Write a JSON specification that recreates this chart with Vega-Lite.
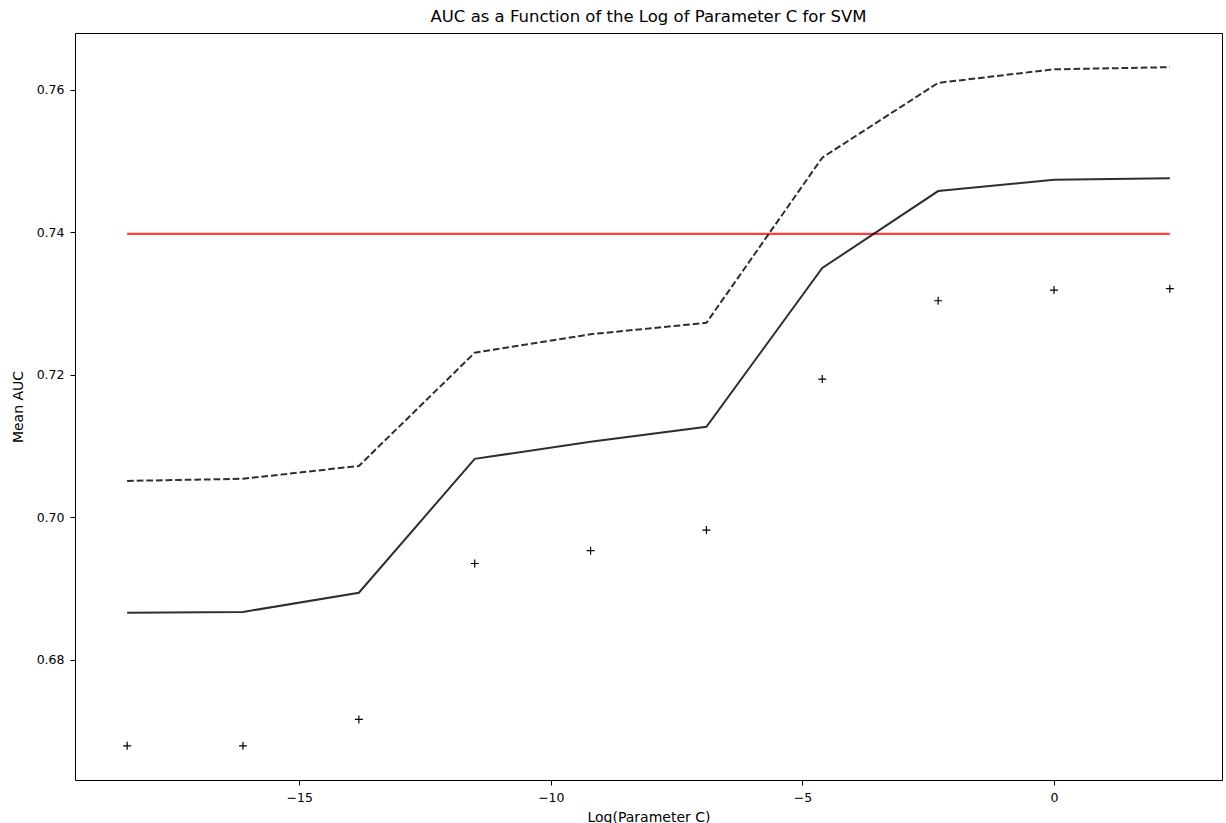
{
  "$schema": "https://vega.github.io/schema/vega-lite/v6.json",
  "autosize": {"type": "none"},
  "padding": {"left": 75, "top": 33, "right": 4, "bottom": 43},
  "width": 1147,
  "height": 747,
  "background": "white",
  "title": {
    "text": "AUC as a Function of the Log of Parameter C for SVM",
    "font": "DejaVu Sans",
    "fontSize": 16.5,
    "fontWeight": "normal",
    "color": "black",
    "anchor": "middle",
    "baseline": "alphabetic",
    "offset": -5
  },
  "config": {
    "view": {"stroke": "black", "strokeWidth": 1},
    "axis": {
      "domain": false,
      "grid": false,
      "labelFont": "DejaVu Sans",
      "labelFontSize": 12.5,
      "labelColor": "black",
      "titleFont": "DejaVu Sans",
      "titleFontSize": 14,
      "titleFontWeight": "normal",
      "titleColor": "black",
      "tickColor": "black",
      "tickSize": 5,
      "tickWidth": 1,
      "labelPadding": 6
    }
  },
  "data": {
    "values": [
      {"logC": -18.4207, "auc": 0.6866, "series": "mean"},
      {"logC": -16.1181, "auc": 0.6867, "series": "mean"},
      {"logC": -13.8155, "auc": 0.6894, "series": "mean"},
      {"logC": -11.5129, "auc": 0.7082, "series": "mean"},
      {"logC": -9.2103, "auc": 0.7106, "series": "mean"},
      {"logC": -6.9078, "auc": 0.7127, "series": "mean"},
      {"logC": -4.6052, "auc": 0.7350, "series": "mean"},
      {"logC": -2.3026, "auc": 0.7458, "series": "mean"},
      {"logC": 0.0, "auc": 0.7474, "series": "mean"},
      {"logC": 2.3026, "auc": 0.7476, "series": "mean"},
      {"logC": -18.4207, "auc": 0.7051, "series": "upper"},
      {"logC": -16.1181, "auc": 0.7054, "series": "upper"},
      {"logC": -13.8155, "auc": 0.7072, "series": "upper"},
      {"logC": -11.5129, "auc": 0.7231, "series": "upper"},
      {"logC": -9.2103, "auc": 0.7257, "series": "upper"},
      {"logC": -6.9078, "auc": 0.7273, "series": "upper"},
      {"logC": -4.6052, "auc": 0.7505, "series": "upper"},
      {"logC": -2.3026, "auc": 0.7610, "series": "upper"},
      {"logC": 0.0, "auc": 0.7629, "series": "upper"},
      {"logC": 2.3026, "auc": 0.7632, "series": "upper"},
      {"logC": -18.4207, "auc": 0.6679, "series": "lower"},
      {"logC": -16.1181, "auc": 0.6679, "series": "lower"},
      {"logC": -13.8155, "auc": 0.6716, "series": "lower"},
      {"logC": -11.5129, "auc": 0.6935, "series": "lower"},
      {"logC": -9.2103, "auc": 0.6953, "series": "lower"},
      {"logC": -6.9078, "auc": 0.6982, "series": "lower"},
      {"logC": -4.6052, "auc": 0.7194, "series": "lower"},
      {"logC": -2.3026, "auc": 0.7304, "series": "lower"},
      {"logC": 0.0, "auc": 0.7319, "series": "lower"},
      {"logC": 2.3026, "auc": 0.7321, "series": "lower"},
      {"logC": -18.4207, "auc": 0.7398, "series": "baseline"},
      {"logC": 2.3026, "auc": 0.7398, "series": "baseline"}
    ]
  },
  "encoding": {
    "x": {
      "field": "logC",
      "type": "quantitative",
      "scale": {"domain": [-19.457, 3.339], "nice": false, "zero": false},
      "axis": {"title": "Log(Parameter C)", "values": [-15, -10, -5, 0], "format": "d", "titlePadding": 7}
    },
    "y": {
      "field": "auc",
      "type": "quantitative",
      "scale": {"domain": [0.6631, 0.768], "nice": false, "zero": false},
      "axis": {"title": "Mean AUC", "values": [0.68, 0.7, 0.72, 0.74, 0.76], "format": ".2f", "titlePadding": 11}
    }
  },
  "layer": [
    {
      "transform": [{"filter": "datum.series === 'baseline'"}],
      "mark": {"type": "line", "color": "red", "opacity": 0.75, "strokeWidth": 2.2}
    },
    {
      "transform": [{"filter": "datum.series === 'upper'"}],
      "mark": {"type": "line", "color": "black", "opacity": 0.82, "strokeWidth": 2, "strokeDash": [6.7, 2.9]}
    },
    {
      "transform": [{"filter": "datum.series === 'mean'"}],
      "mark": {"type": "line", "color": "black", "opacity": 0.82, "strokeWidth": 2}
    },
    {
      "transform": [{"filter": "datum.series === 'lower'"}],
      "mark": {"type": "point", "shape": "M-1,0H1M0,-1V1", "size": 64, "stroke": "black", "strokeWidth": 1.2, "filled": false, "opacity": 1}
    }
  ]
}
